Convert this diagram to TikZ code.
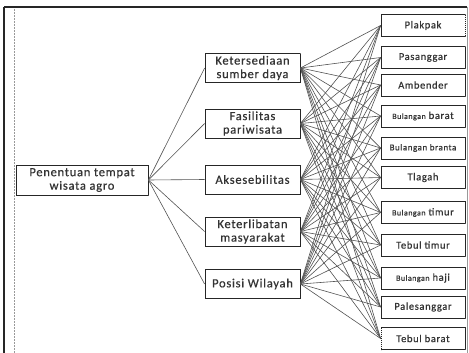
\documentclass[tikz,border=0pt]{standalone}
\usepackage{fontspec}
\setmainfont{Carlito}
\newfontfamily\boxfont[LetterSpace=6,FakeBold=0.6]{Carlito}
\begin{document}
\begin{tikzpicture}[x=1pt,y=-1pt,
  box/.style={draw=black!85, line width=0.8pt, dash pattern=on 1.6pt off 0.4pt, fill=white,
    inner sep=0pt, align=center, text=black!80, font=\boxfont\fontsize{12.5}{13.5}\selectfont},
  mid/.style={box, minimum width=95pt, minimum height=29pt},
  leaf/.style={box, minimum width=84pt, minimum height=22pt, font=\boxfont\fontsize{10.5}{12}\selectfont},
  link/.style={draw=black!68, line width=0.6pt}]
\useasboundingbox (0,0) rectangle (469,353);
% frame
\draw[black!85, line width=1.3pt] (4,7) -- (467,7);
\draw[black!85, line width=1.3pt] (4,7) -- (4,353);
\draw[black!40, line width=0.8pt, dash pattern=on 2pt off 1pt] (14,9) -- (14,353);
\draw[black!40, line width=0.6pt] (467.5,7) -- (467.5,353);
% root
\node[box, minimum width=132pt, minimum height=30pt] (root) at (82,180) {Penentuan tempat\\wisata agro};
% middle
\node[mid] (m1) at (252.5,68) {Ketersediaan\\sumber daya};
\node[mid] (m2) at (252.5,123.5) {Fasilitas\\pariwisata};
\node[mid] (m3) at (252.5,179.5) {Aksesebilitas};
\node[mid] (m4) at (252.5,231.5) {Keterlibatan\\masyarakat};
\node[mid] (m5) at (252.5,284) {Posisi Wilayah};
% leaves
\newcommand{\bl}{{\fontsize{8}{9}\selectfont Bulangan}}
\node[leaf] (r1) at (423,25.5) {Plakpak};
\node[leaf] (r2) at (423,57.5) {Pasanggar};
\node[leaf] (r3) at (423,85) {Ambender};
\node[leaf] (r4) at (423,116) {\bl{} barat};
\node[leaf] (r5) at (423,148) {{\fontsize{9}{10}\selectfont Bulangan branta}};
\node[leaf] (r6) at (423,177.5) {Tlagah};
\node[leaf] (r7) at (423,212.5) {\bl{} timur};
\node[leaf] (r8) at (423,245) {Tebul timur};
\node[leaf] (r9) at (423,278) {\bl{} haji};
\node[leaf] (r10) at (423,307) {Palesanggar};
\node[leaf] (r11) at (423,338.5) {Tebul barat};
% connectors
\foreach \m in {1,...,5} {
  \draw[link] (root.east) -- (m\m.west);
  \foreach \r in {1,...,11} {
    \draw[link] (m\m.east) -- (r\r.west);
  }
}
\end{tikzpicture}
\end{document}
